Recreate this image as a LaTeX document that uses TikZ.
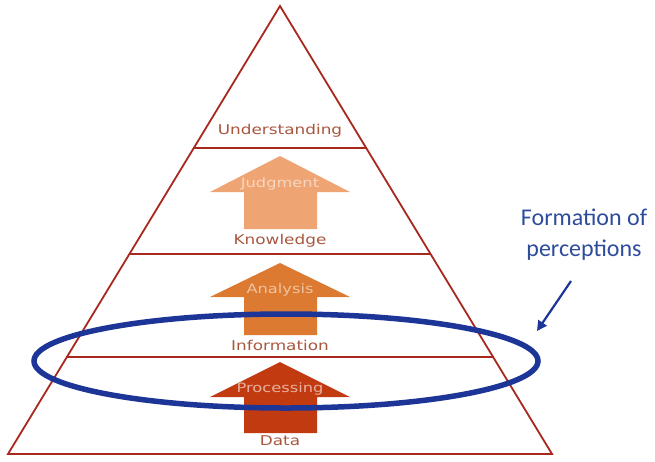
\documentclass[tikz,border=0pt]{standalone}
\usepackage{fontspec}
\setmainfont{Carlito}
\newfontfamily\pyrfont[FakeStretch=1.25]{DejaVu Sans}
\usetikzlibrary{shapes.geometric,arrows.meta}
\definecolor{pyrred}{HTML}{A8281E}
\definecolor{arrA}{HTML}{EFA473}
\definecolor{arrB}{HTML}{DB7A30}
\definecolor{arrC}{HTML}{C23A10}
\definecolor{lblcol}{HTML}{A8563E}
\definecolor{ellblue}{HTML}{1C3596}
\definecolor{txtblue}{HTML}{2E4C9C}
\tikzset{
  pyrline/.style={draw=pyrred, line width=1.8pt},
  lvl/.style={font=\pyrfont\fontsize{13.5}{14}\selectfont, text=lblcol, inner sep=0pt},
  inarr/.style={font=\pyrfont\fontsize{13}{14}\selectfont, inner sep=0pt},
}
\begin{document}
\begin{tikzpicture}[x=1pt,y=-1pt]
\useasboundingbox (0,0) rectangle (655,461);
% triangle
\coordinate (apex) at (280,6);
\coordinate (bl) at (8,454);
\coordinate (br) at (552,454);
\draw[pyrline, line join=miter] (apex) -- (bl) -- (br) -- cycle;
% level lines
\draw[pyrline] (193.5,148) -- (366.5,148);
\draw[pyrline] (129,254) -- (431,254);
\draw[pyrline] (66,357) -- (494,357);
% arrows
\newcommand{\uparr}[4]{% tipy, headbase y, bottom y, colour
  \fill[#4] (280,#1) -- (350,#2) -- (317,#2) -- (317,#3) -- (244,#3) -- (244,#2) -- (210,#2) -- cycle;}
\uparr{156}{192}{229}{arrA}
\uparr{263}{297}{335}{arrB}
\uparr{362}{397}{433}{arrC}
% texts
\node[lvl] (und) at (280,131) {Understanding};
\node[lvl] (kno) at (280,241) {Knowledge};
\node[lvl] (inf) at (280,345) {Information};
\node[lvl] (dat) at (280,441) {Data};
\node[inarr, text=arrA!45!white] (jud) at (280,184) {Judgment};
\node[inarr, text=arrB!45!white] (ana) at (280,290) {Analysis};
\node[inarr, text=arrC!40!white] (pro) at (280,389) {Processing};
% ellipse
\node[ellipse, draw=ellblue, line width=5.5pt, minimum width=504pt, minimum height=94pt, inner sep=0pt] (ell) at (286,361) {};
% label
\node[text=txtblue, font=\fontsize{24}{31}\selectfont, align=center] (form) at (584,235) {Formation of\\perceptions};
\coordinate (tip) at (537,331);
\draw[ellblue, line width=2.2pt, -{Triangle[length=10pt,width=10pt]}] (571,281) -- (tip);
\end{tikzpicture}
\end{document}
